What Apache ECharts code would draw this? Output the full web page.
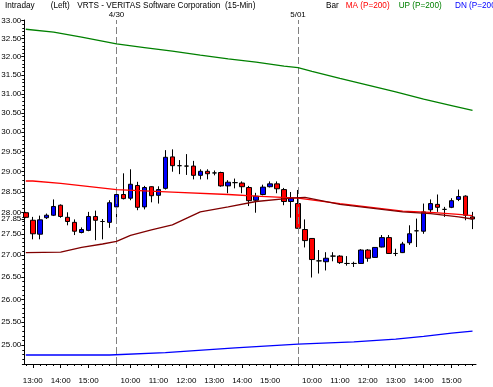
<!DOCTYPE html>
<html><head><meta charset="utf-8">
<script src="https://cdn.jsdelivr.net/npm/echarts@6/dist/echarts.min.js"></script>
<style>html,body{margin:0;padding:0;background:#fff}#c{width:493px;height:387px}</style>
</head><body><div id="c"></div>
<script>
// ---- categories (15-min bars) ----
const day1Date = '4/29', day2Date = '4/30', day3Date = '5/01';
const day1Times = ['12:45','13:00','13:15','13:30','13:45','14:00','14:15','14:30','14:45','15:00','15:15','15:30','15:45'];
const sessionTimes = ['09:30','09:45','10:00','10:15','10:30','10:45','11:00','11:15','11:30','11:45','12:00','12:15','12:30','12:45','13:00','13:15','13:30','13:45','14:00','14:15','14:30','14:45','15:00','15:15','15:30','15:45'];
const categories = [].concat(
  day1Times.map(t => day1Date + ' ' + t),
  sessionTimes.map(t => day2Date + ' ' + t),
  sessionTimes.map(t => day3Date + ' ' + t));

// ---- OHLC ----
const opens  = [28.00,27.82,27.49,27.88,27.94,28.18,27.89,27.77,27.53,27.58,27.91,27.79,27.77,
  28.14,28.44,28.35,28.66,28.14,28.63,28.42,28.59,29.37,29.15,29.14,29.14,28.91,29.01,28.97,28.98,28.65,28.73,28.72,28.61,28.30,28.44,28.63,28.70,28.56,28.27,
  28.22,27.60,27.39,26.87,26.85,26.98,26.98,26.81,26.81,26.81,27.12,26.95,27.19,27.41,27.04,27.06,27.29,27.57,27.56,28.07,28.20,28.08,28.13,28.32,28.40,27.90];
const highs  = [28.02,27.90,27.93,27.98,28.32,28.20,28.01,27.84,27.65,28.02,28.05,27.85,28.30,
  28.48,28.96,29.06,28.75,28.65,28.64,28.64,29.54,29.56,29.29,29.44,29.27,29.06,29.06,29.03,29.00,28.79,28.83,28.76,28.65,28.48,28.68,28.76,28.76,28.60,28.50,
  28.55,27.84,27.40,27.12,27.07,27.07,27.00,26.98,26.85,27.14,27.14,27.19,27.47,27.47,27.15,27.31,27.70,27.86,28.22,28.32,28.44,28.14,28.35,28.56,28.42,28.02];
const lows   = [27.87,27.37,27.37,27.85,27.92,27.88,27.70,27.47,27.51,27.56,27.35,27.37,27.64,
  27.89,28.32,28.30,28.06,28.08,28.25,28.22,28.56,29.00,28.94,28.92,28.81,28.81,28.81,28.91,28.63,28.47,28.59,28.47,28.16,28.00,28.42,28.61,28.47,28.18,27.88,
  27.62,27.18,26.49,26.58,26.65,26.86,26.80,26.76,26.73,26.80,26.85,26.94,27.18,27.03,26.98,27.05,27.24,27.19,27.50,27.98,28.02,27.90,28.11,28.28,27.82,27.61];
const closes = [27.89,27.50,27.83,27.94,28.15,27.91,27.79,27.56,27.60,27.91,27.82,27.79,28.24,
  28.44,28.34,28.69,28.13,28.61,28.41,28.56,29.36,29.15,29.15,29.14,28.91,29.01,28.95,28.97,28.65,28.74,28.73,28.63,28.29,28.40,28.62,28.70,28.58,28.27,28.35,
  27.63,27.34,26.90,26.87,26.93,26.98,26.83,26.81,26.81,27.12,26.93,27.18,27.41,27.04,27.04,27.26,27.50,27.57,28.02,28.22,28.13,28.08,28.29,28.39,27.94,27.85];

// ---- indicator lines (read points) ----
const maPoints = [['4/29 12:45',28.77],['4/29 13:00',28.77],['4/29 14:00',28.71],['4/30 09:30',28.56],['4/30 11:30',28.50],
  ['4/30 13:30',28.44],['4/30 14:30',28.40],['5/01 09:30',28.35],['5/01 11:00',28.22],['5/01 13:15',28.04],['5/01 14:15',28.01],['5/01 15:15',27.96],['5/01 15:45',27.93]];
const upPoints = [['4/29 12:45',32.76],['4/29 13:45',32.68],['4/29 14:45',32.54],['4/30 09:30',32.35],['4/30 10:30',32.25],['4/30 11:30',32.15],
  ['4/30 12:30',32.04],['4/30 13:30',31.94],['4/30 14:30',31.85],['4/30 15:30',31.74],['5/01 09:30',31.70],['5/01 10:00',31.60],['5/01 11:00',31.41],
  ['5/01 12:00',31.23],['5/01 13:00',31.05],['5/01 14:00',30.86],['5/01 15:00',30.69],['5/01 15:45',30.56]];
const dnPoints = [['4/29 12:45',24.79],['4/29 15:45',24.79],['4/30 11:15',24.84],['4/30 13:45',24.94],['5/01 09:30',25.02],['5/01 11:30',25.07],
  ['5/01 13:00',25.13],['5/01 14:00',25.19],['5/01 15:00',25.26],['5/01 15:45',25.30]];
const avgPoints = [['4/29 12:45',27.06],['4/29 14:00',27.07],['4/29 14:45',27.18],['4/29 15:30',27.26],['4/30 09:30',27.32],['4/30 10:00',27.46],
  ['4/30 10:45',27.59],['4/30 11:30',27.71],['4/30 12:30',28.02],['4/30 13:30',28.14],['4/30 14:30',28.27],['4/30 15:45',28.35],['5/01 09:45',28.37],
  ['5/01 11:00',28.20],['5/01 13:15',28.02],['5/01 14:15',27.98],['5/01 15:15',27.90],['5/01 15:45',27.85]];

// ---- axis values ----
const yMin = 24.60, yMax = 33.02;
const yTickValues = [25.0,25.5,26.0,26.5,27.0,27.5,28.0,28.5,29.0,29.5,30.0,30.5,31.0,31.5,32.0,32.5,33.0];
const lastPrice = 27.85;
const separators = [['4/30 09:30','4/30'],['5/01 09:30','5/01']];
const headerTexts = [['Intraday',5,'#000'],['(Left)',50.7,'#000'],['VRTS - VERITAS Software Corporation  (15-Min)',77.3,'#000'],
  ['Bar',326,'#000'],['MA (P=200)',345.7,'#ff0000'],['UP (P=200)',398.7,'#008000'],['DN (P=200)',455,'#0000ff']];

const ln = Math.log;
const FONT = 'Liberation Sans';
const minorTicks = [];
for (let k = 247; k <= 330; k++) minorTicks.push(ln(k / 10));

const chart = echarts.init(document.getElementById('c'), null, {renderer: 'canvas'});
const isHour = (i, v) => /:00$/.test(v);
const lineSeries = (name, pts, color) => ({
  name, type: 'line', data: pts.map(p => [p[0], ln(p[1])]), symbol: 'none',
  lineStyle: {color, width: 1.3}, itemStyle: {color}, z: 5, silent: true
});

chart.setOption({
  animation: false,
  backgroundColor: '#fff',
  grid: {left: 22.3, right: 17, top: 20, bottom: 23, containLabel: false, outerBoundsMode: 'none'},
  xAxis: [
    {type: 'category', data: categories, boundaryGap: true, position: 'bottom',
     axisLine: {lineStyle: {color: '#000', width: 1}},
     axisTick: {show: true, alignWithLabel: true, interval: 0, length: 2, lineStyle: {color: '#000'}},
     axisLabel: {show: false}, splitLine: {show: false}},
    {type: 'category', data: categories, boundaryGap: true, position: 'bottom',
     axisLine: {show: false},
     axisTick: {show: true, alignWithLabel: true, interval: isHour, length: 4, lineStyle: {color: '#000'}},
     axisLabel: {show: true, interval: isHour, formatter: v => v.split(' ')[1], fontFamily: FONT, fontSize: 8, color: '#000', margin: 13},
     splitLine: {show: false}}
  ],
  yAxis: [
    {type: 'value', position: 'left', min: ln(yMin), max: ln(yMax), offset: -2,
     axisLine: {show: true, lineStyle: {color: '#000'}}, splitLine: {show: false},
     axisTick: {show: true, length: 3, customValues: yTickValues.map(ln), lineStyle: {color: '#000'}},
     axisLabel: {show: true, customValues: yTickValues.map(ln), formatter: v => Math.exp(v).toFixed(2), fontFamily: FONT, fontSize: 8, color: '#000', margin: 3}},
    {type: 'value', position: 'left', min: ln(yMin), max: ln(yMax), offset: -2,
     axisLine: {show: false}, splitLine: {show: false},
     axisTick: {show: true, length: 2, customValues: minorTicks, lineStyle: {color: '#000'}},
     axisLabel: {show: false}},
    {type: 'value', position: 'left', min: ln(yMin), max: ln(yMax), offset: -2, z: 4,
     axisLine: {show: false}, splitLine: {show: false},
     axisTick: {show: true, length: 3, customValues: [ln(lastPrice)], lineStyle: {color: '#000'}},
     axisLabel: {show: true, customValues: [ln(lastPrice)], formatter: v => Math.exp(v).toFixed(2), fontFamily: FONT, fontSize: 8, color: '#000', margin: 3,
       backgroundColor: '#fff', padding: [0, 0, 0, 1]}}
  ],
  series: [
    {type: 'candlestick', name: 'VRTS', barWidth: 5, silent: true, z: 3,
     data: categories.map((c, i) => [ln(opens[i]), ln(closes[i]), ln(lows[i]), ln(highs[i])]),
     itemStyle: {color: '#0000ff', color0: '#ff0000', borderColor: '#000', borderColor0: '#000', borderColorDoji: '#000', borderWidth: 1},
     markLine: {silent: true, symbol: 'none', animation: false,
       lineStyle: {color: '#808080', type: [7, 3], width: 1},
       label: {show: true, position: 'end', distance: 1, fontFamily: FONT, fontSize: 8, color: '#000'},
       data: separators.map(s => ({xAxis: s[0], label: {formatter: s[1]}}))}},
    lineSeries('MA', maPoints, '#ff0000'),
    lineSeries('UP', upPoints, '#008000'),
    lineSeries('DN', dnPoints, '#0000ff'),
    lineSeries('AVG', avgPoints, '#800000')
  ],
  graphic: headerTexts.map(h => ({type: 'text', x: h[1], y: 5.5, silent: true,
    style: {text: h[0], fill: h[2], font: '8.2px ' + FONT, verticalAlign: 'middle'}}))
});
</script>
</body></html>
